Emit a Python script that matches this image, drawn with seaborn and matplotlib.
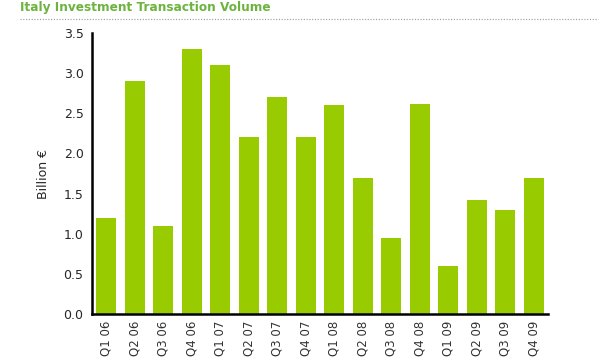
import numpy as np
import pandas as pd
import matplotlib
matplotlib.use("Agg")
import matplotlib.pyplot as plt
from matplotlib.ticker import FixedLocator
import seaborn as sns

# Datos
quarters = ["Q1 06", "Q2 06", "Q3 06", "Q4 06", "Q1 07", "Q2 07", "Q3 07", "Q4 07",
            "Q1 08", "Q2 08", "Q3 08", "Q4 08", "Q1 09", "Q2 09", "Q3 09", "Q4 09"]
volume = [1.2, 2.9, 1.1, 3.3, 3.1, 2.2, 2.7, 2.2,
          2.6, 1.7, 0.95, 2.62, 0.6, 1.42, 1.3, 1.7]
y_ticks = [0.0, 0.5, 1.0, 1.5, 2.0, 2.5, 3.0, 3.5]

BAR_COLOR = "#99CC00"
TITLE_COLOR = "#6DB33F"

sns.set_style("white")
plt.rcParams["font.family"] = ["DejaVu Sans"]

df = pd.DataFrame({"quarter": quarters, "volume": volume})

fig = plt.figure(figsize=(6.01, 3.63), dpi=100)
ax = fig.add_axes([0.153, 0.135, 0.759, 0.774])

sns.barplot(data=df, x="quarter", y="volume", color=BAR_COLOR, width=0.7,
            saturation=1, linewidth=0, ax=ax)

ax.set_xlim(-0.5, len(quarters) - 0.5)
ax.set_ylim(0, 3.5)
ax.set_yticks(y_ticks)
ax.set_yticklabels([f"{v:.1f}" for v in y_ticks], fontsize=9)
ax.set_xticks(range(len(quarters)))
ax.set_xticklabels(quarters, rotation=90, fontsize=8.5, color="#333333")
ax.xaxis.set_minor_locator(FixedLocator(np.arange(-0.5, len(quarters), 1.0)))
ax.tick_params(axis="x", which="major", length=0, pad=5)
ax.tick_params(axis="x", which="minor", length=4, width=1.5, color="black", direction="out")
ax.tick_params(axis="y", length=4, width=1.2, color="black", direction="out", pad=2)

ax.set_xlabel("")
ax.set_ylabel("Billion €", fontsize=9, labelpad=10)

sns.despine(ax=ax)
for s in ["left", "bottom"]:
    ax.spines[s].set_color("black")
    ax.spines[s].set_linewidth(1.8)

# Título y línea punteada
fig.text(20 / 601, 1 - 7.5 / 363, "Italy Investment Transaction Volume", color=TITLE_COLOR,
         fontsize=8.7, fontweight="bold", va="center", ha="left")
fig.add_artist(plt.Line2D([20 / 601, 598 / 601], [1 - 19 / 363, 1 - 19 / 363],
                          transform=fig.transFigure, color="#999999",
                          linestyle=(0, (1, 1.5)), linewidth=0.8))

fig.savefig("out.png", dpi=100)
